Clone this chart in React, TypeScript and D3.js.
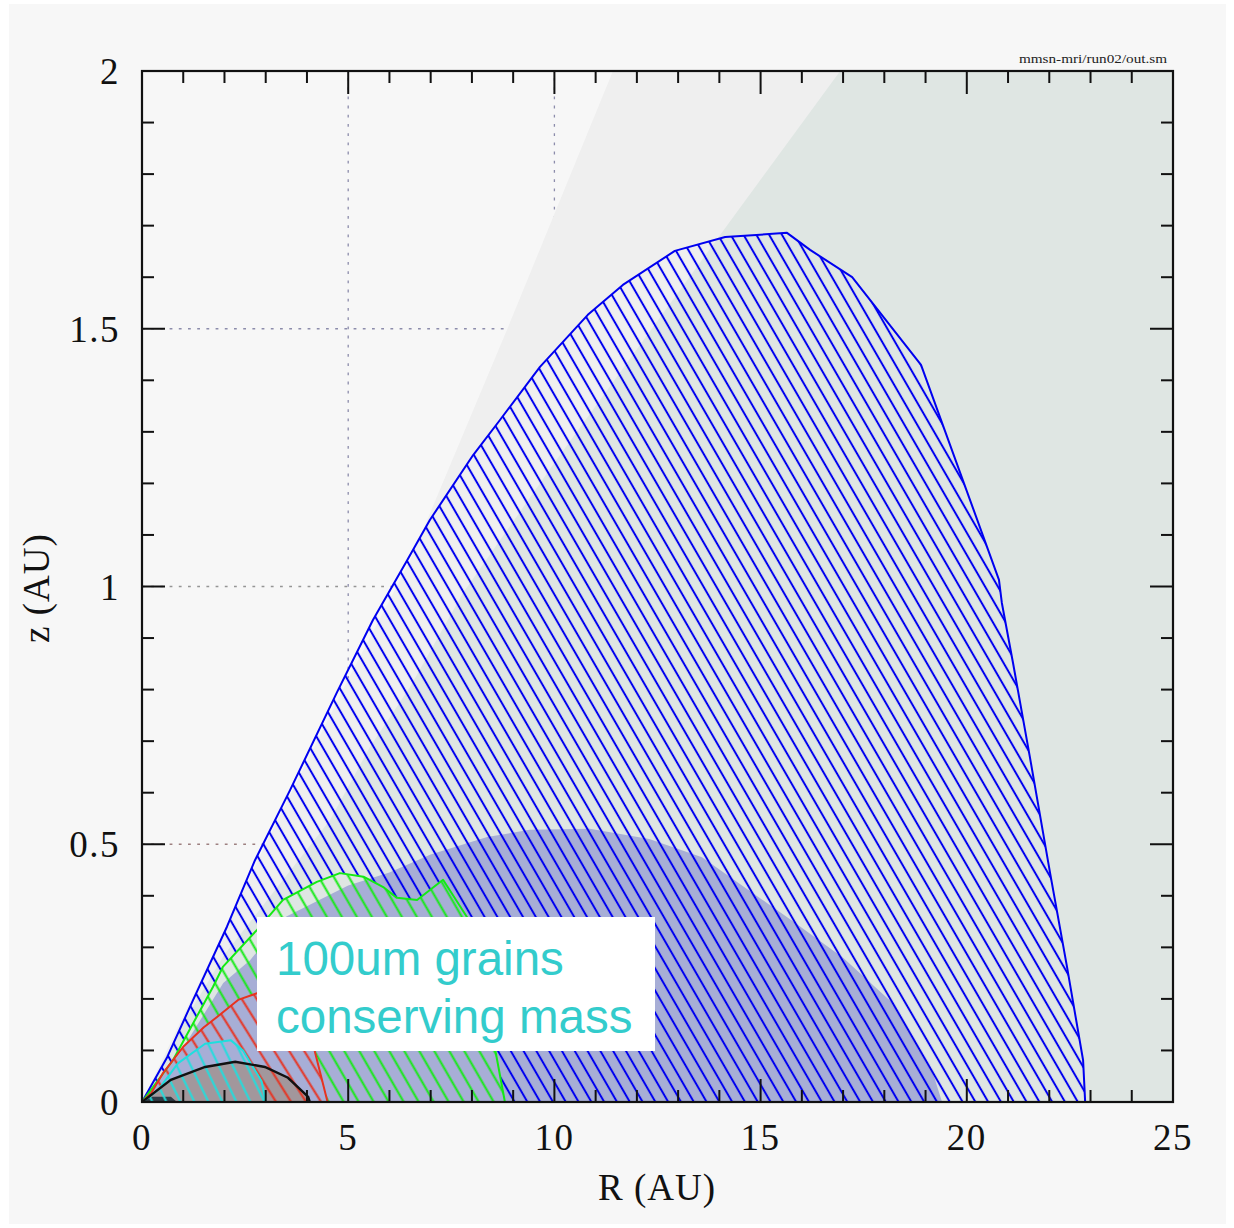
import React from "react";
import * as d3 from "d3";

const W = 1234;
const H = 1228;

// Region boundaries in the (R, z) plane, both in AU
const blueR = [0, 0.61, 1.24, 2.06, 2.74, 3.59, 4.73, 5.6, 6.43, 6.98, 8.03, 8.68, 9.65, 10.81, 11.66, 12.92, 14.14, 15.64, 16.2, 17.22, 18.89, 20.78, 20.85, 21.12, 21.53, 22.02, 22.43, 22.82, 22.87];
const blueZ = [0, 0.087, 0.198, 0.34, 0.469, 0.605, 0.795, 0.935, 1.051, 1.129, 1.255, 1.323, 1.426, 1.527, 1.585, 1.651, 1.678, 1.686, 1.653, 1.6, 1.43, 1.013, 0.968, 0.852, 0.669, 0.444, 0.262, 0.081, 0];

const greenR = [0, 0.75, 1.72, 1.96, 2.79, 3.42, 4.24, 4.8, 5.37, 5.85, 6.18, 6.67, 7.3, 7.88, 8.2, 8.45, 8.58, 8.8];
const greenZ = [0, 0.081, 0.223, 0.262, 0.334, 0.392, 0.427, 0.444, 0.437, 0.417, 0.396, 0.392, 0.431, 0.359, 0.26, 0.16, 0.095, 0];

const redR = [0, 0.22, 0.5, 1.0, 1.5, 1.82, 2.33, 2.79, 3.3, 3.8, 4.1, 4.2, 4.5];
const redZ = [0, 0.017, 0.055, 0.107, 0.145, 0.165, 0.198, 0.211, 0.215, 0.19, 0.13, 0.095, 0];

const cyanR = [0, 0.39, 0.87, 1.53, 2.15, 2.45, 2.75, 2.9, 3.0];
const cyanZ = [0, 0.023, 0.075, 0.113, 0.12, 0.1, 0.06, 0.04, 0];

const blackR = [0, 0.7, 1.53, 2.26, 2.98, 3.54, 4.03, 4.07];
const blackZ = [0, 0.043, 0.068, 0.078, 0.068, 0.047, 0.01, 0];

const coreR = [0, 0.25, 0.7, 0.85];
const coreZ = [0, 0.01, 0.01, 0];

// Filled density dome
const domeR = [0, 0.92, 1.97, 2.62, 3.5, 5.0, 6.0, 7.0, 8.37, 9.4, 10.86, 12.3, 13.58, 15.74, 17.0, 18.2, 19.18, 19.4];
const domeZ = [0, 0.095, 0.231, 0.275, 0.36, 0.42, 0.445, 0.48, 0.514, 0.528, 0.53, 0.51, 0.475, 0.353, 0.28, 0.192, 0.056, 0];

// Shaded surfaces of the disc (lower boundary of each shade)
const surf1R = [0, 3.0, 5.0, 6.5, 8.85, 9.94, 11.42];
const surf1Z = [0, 0.5, 0.82, 1.05, 1.498, 1.711, 2.0];
const surf2R = [0, 1.0, 2.0, 4.56, 5.53, 6.5, 7.78, 10.0, 12.0, 14.0, 16.93];
const surf2Z = [0, 0.153, 0.286, 0.547, 0.689, 0.805, 0.987, 1.24, 1.46, 1.68, 2.0];

// Axes
const xMajor = [0, 5, 10, 15, 20, 25];
const xLabels = ["0", "5", "10", "15", "20", "25"];
const xMinor = d3.range(0, 26, 1);
const yMajor = [0, 0.5, 1, 1.5, 2];
const yLabels = ["0", "0.5", "1", "1.5", "2"];
const yMinor = d3.range(0, 21, 1).map((i) => i / 10);
const gridR = [5, 10, 15, 20];
const gridZ = [0.5, 1, 1.5];

const hatch = {
  blue: { color: "#0000f0", step: 12.8, angle: 60 },
  green: { color: "#14ea14", step: 15, angle: 60 },
  red: { color: "#e8321f", step: 15, angle: 58 },
  cyan: { color: "#1fdede", step: 14, angle: 64 },
};

export default function App() {
  const x = d3.scaleLinear().domain([0, 25]).range([142, 1173]);
  const y = d3.scaleLinear().domain([0, 2]).range([1102, 71]);
  const line = d3
    .line<[number, number]>()
    .x((d) => x(d[0]))
    .y((d) => y(d[1]));
  const pts = (rs: number[], zs: number[]) =>
    rs.map((r, i) => [r, zs[i]] as [number, number]);
  const closed = (rs: number[], zs: number[]) => line(pts(rs, zs)) + "Z";
  const below = (rs: number[], zs: number[]) =>
    line([...pts(rs, zs), [25, 2], [25, 0]]) + "Z";

  const blueP = closed(blueR, blueZ);
  const greenP = closed(greenR, greenZ);
  const redP = closed(redR, redZ);
  const cyanP = closed(cyanR, cyanZ);
  const blackP = closed(blackR, blackZ);

  const x0 = x(0), x1 = x(25), y0 = y(0), y1 = y(2);
  const serif = "'Liberation Serif', 'DejaVu Serif', serif";

  const patterns = Object.entries(hatch).map(([k, h]) => {
    const perp = h.step * Math.sin((h.angle * Math.PI) / 180);
    return (
      <pattern
        key={k}
        id={`hatch-${k}`}
        patternUnits="userSpaceOnUse"
        width={perp}
        height={40}
        patternTransform={`rotate(${-(90 - h.angle)})`}
      >
        <line x1={perp / 2} y1={-2} x2={perp / 2} y2={42} stroke={h.color} strokeWidth={2} />
      </pattern>
    );
  });

  const tickLen = (major: boolean) => (major ? 23 : 12);

  return (
    <svg
      width={W}
      height={H}
      style={{ position: "absolute", left: 0, top: 0, display: "block" }}
      xmlns="http://www.w3.org/2000/svg"
    >
      <defs>
        {patterns}
        <clipPath id="plot">
          <rect x={x0} y={y1} width={x1 - x0} height={y0 - y1} />
        </clipPath>
        <mask id="m-blue" maskUnits="userSpaceOnUse" x={0} y={0} width={W} height={H}>
          <path d={blueP} fill="white" />
          <path d={greenP} fill="black" />
        </mask>
        <mask id="m-green" maskUnits="userSpaceOnUse" x={0} y={0} width={W} height={H}>
          <path d={greenP} fill="white" />
          <path d={redP} fill="black" />
        </mask>
        <mask id="m-red" maskUnits="userSpaceOnUse" x={0} y={0} width={W} height={H}>
          <path d={redP} fill="white" />
          <path d={cyanP} fill="black" />
        </mask>
      </defs>

      <rect x={0} y={0} width={W} height={H} fill="#ffffff" />
      <rect x={9} y={4} width={1217} height={1220} fill="#f7f7f7" />

      <g clipPath="url(#plot)">
        {/* dotted grid */}
        {gridR.map((r) => (
          <line key={`gr${r}`} x1={x(r)} x2={x(r)} y1={y0} y2={y1} stroke="#8c8cab" strokeWidth={1.3} strokeDasharray="2.8 6.4" />
        ))}
        {gridZ.map((z) => (
          <line
            key={`gz${z}`}
            x1={x0}
            x2={x1}
            y1={y(z)}
            y2={y(z)}
            stroke={z === 0.5 ? "#9d8080" : z === 1 ? "#959595" : "#8c8cab"}
            strokeWidth={1.3}
            strokeDasharray="2.8 6.4"
          />
        ))}

        {/* shaded disc layers */}
        <path d={below(surf1R, surf1Z)} fill="#efefef" />
        <path d={below(surf2R, surf2Z)} fill="#dfe6e3" />
        <path d={closed(domeR, domeZ)} fill="#a7aed6" />
        <path d={blackP} fill="#a2979c" />
        <path d={closed(coreR, coreZ)} fill="#2f3b46" />

        {/* hatched regions */}
        <path d={blueP} fill="url(#hatch-blue)" mask="url(#m-blue)" />
        <path d={greenP} fill="url(#hatch-green)" mask="url(#m-green)" />
        <path d={redP} fill="url(#hatch-red)" mask="url(#m-red)" />
        <path d={cyanP} fill="url(#hatch-cyan)" />

        <path d={blueP} fill="none" stroke={hatch.blue.color} strokeWidth={2} strokeLinejoin="round" />
        <path d={greenP} fill="none" stroke={hatch.green.color} strokeWidth={2} strokeLinejoin="round" />
        <path d={redP} fill="none" stroke={hatch.red.color} strokeWidth={2} strokeLinejoin="round" />
        <path d={cyanP} fill="none" stroke={hatch.cyan.color} strokeWidth={2} strokeLinejoin="round" />
        <path d={line(pts(blackR, blackZ)) ?? ""} fill="none" stroke="#111" strokeWidth={2.4} />
      </g>

      {/* ticks on all four sides */}
      <g stroke="#111" strokeWidth={2}>
        {xMinor.map((r) => {
          const L = tickLen(r % 5 === 0);
          return (
            <g key={`xt${r}`}>
              <line x1={x(r)} x2={x(r)} y1={y0} y2={y0 - L} />
              <line x1={x(r)} x2={x(r)} y1={y1} y2={y1 + L} />
            </g>
          );
        })}
        {yMinor.map((z, i) => {
          const L = tickLen(i % 5 === 0);
          return (
            <g key={`yt${i}`}>
              <line x1={x0} x2={x0 + L} y1={y(z)} y2={y(z)} />
              <line x1={x1} x2={x1 - L} y1={y(z)} y2={y(z)} />
            </g>
          );
        })}
      </g>
      <rect x={x0} y={y1} width={x1 - x0} height={y0 - y1} fill="none" stroke="#111" strokeWidth={2.2} />

      {/* tick labels */}
      <g fontFamily={serif} fontSize={37} fill="#111">
        {xMajor.map((r, i) => (
          <text key={`xl${r}`} x={x(r)} y={1150} textAnchor="middle" letterSpacing={1.5}>
            {xLabels[i]}
          </text>
        ))}
        {yMajor.map((z, i) => (
          <text key={`yl${z}`} x={120} y={y(z) + 13} textAnchor="end" letterSpacing={1.5}>
            {yLabels[i]}
          </text>
        ))}
        <text x={657} y={1200} textAnchor="middle" letterSpacing={1}>
          R (AU)
        </text>
        <text transform="translate(49,588) rotate(-90)" textAnchor="middle" letterSpacing={1}>
          z (AU)
        </text>
      </g>

      <text
        x={1019}
        y={63}
        fontFamily={serif}
        fontSize={11.5}
        fill="#222"
        textLength={148}
        lengthAdjust="spacingAndGlyphs"
      >
        mmsn-mri/run02/out.sm
      </text>

      {/* annotation */}
      <rect x={257} y={917} width={398} height={134} fill="#ffffff" />
      <g fontFamily="'Liberation Sans', Arial, sans-serif" fontSize={47.5} fill="#33cccc">
        <text x={276} y={975}>100um grains</text>
        <text x={276} y={1033}>conserving mass</text>
      </g>
    </svg>
  );
}
